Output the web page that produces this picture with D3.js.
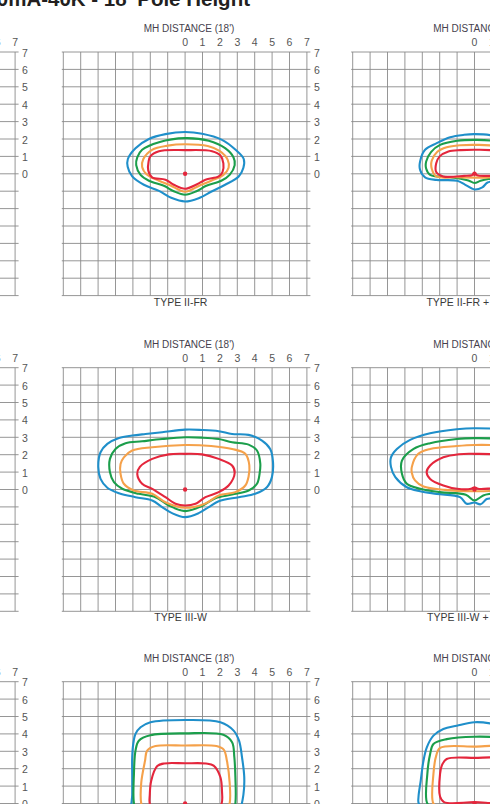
<!DOCTYPE html>
<html>
<head>
<meta charset="utf-8">
<script src="https://cdn.jsdelivr.net/npm/d3@7"></script>
<style>
  html, body { margin: 0; padding: 0; background: #fff; overflow: hidden; }
  svg { display: block; }
</style>
</head>
<body>
<svg id="chart" width="490" height="804"></svg>
<script>
// ---- text ----
const pageTitle = "700mA-40K - 18' Pole Height";
const axisTitle = "MH DISTANCE (18')";
const xTickLabels = [0, 1, 2, 3, 4, 5, 6, 7];
const yTickLabels = [7, 6, 5, 4, 3, 2, 1, 0];
const gridSteps = d3.range(-7, 8);            // grid lines every 1 MH, -7..7

// isofootcandle levels, outer to inner
const levelColors = ["#1f8fca", "#1b9e4b", "#f5a14a", "#e4263c"];

// ---- isofootcandle rings, [MH across, MH forward], outer to inner ----
const ringsIIFR = [
  [[0,2.4],[0.98,2.3],[2.12,1.95],[2.9,1.38],[3.37,0.85],[3.35,0.35],[3.08,-0.15],[2.3,-0.63],[1.55,-1.0],[0.78,-1.4],[0,-1.59],[-0.8,-1.38],[-1.5,-0.98],[-2.37,-0.63],[-3.04,-0.15],[-3.3,0.4],[-3.29,0.85],[-2.85,1.47],[-2.08,2.0],[-1.13,2.28]],
  [[0,2.05],[1.36,1.9],[2.3,1.47],[2.78,0.95],[2.85,0.5],[2.56,-0.06],[2.08,-0.4],[1.22,-0.69],[0.65,-1.0],[0,-1.2],[-0.65,-1.0],[-1.22,-0.69],[-2.08,-0.4],[-2.56,-0.06],[-2.81,0.5],[-2.75,0.95],[-2.47,1.38],[-1.5,1.82]],
  [[0,1.7],[1.3,1.6],[2.0,1.3],[2.45,0.8],[2.5,0.35],[2.2,-0.06],[1.5,-0.4],[0.84,-0.67],[0,-1.03],[-0.84,-0.67],[-1.5,-0.4],[-2.18,-0.06],[-2.47,0.4],[-2.4,0.85],[-1.9,1.38],[-1.0,1.62]],
  [[0,1.36],[1.55,1.3],[2.03,1.05],[2.2,0.6],[2.15,0.1],[1.93,-0.15],[1.17,-0.34],[0.69,-0.6],[0,-0.86],[-0.65,-0.63],[-1.13,-0.34],[-1.9,-0.2],[-2.12,0.2],[-2.1,0.7],[-2.0,1.0],[-1.5,1.3]]
];
const ringsIIFRHss = [
  [[0,2.28],[1.0,2.2],[2.0,1.8],[2.8,1.2],[3.1,0.5],[2.8,-0.1],[2.0,-0.3],[1.3,-0.4],[0.75,-0.5],[0.45,-0.78],[0,-0.9],[-0.55,-0.62],[-1.0,-0.4],[-2.2,-0.35],[-2.84,-0.2],[-3.13,0.23],[-3.13,0.7],[-2.84,1.38],[-2.17,1.76],[-1.4,2.1],[-0.6,2.24]],
  [[0,1.95],[1.0,1.9],[2.0,1.6],[2.6,1.0],[2.7,0.4],[2.4,-0.1],[1.5,-0.25],[0.8,-0.3],[0.35,-0.4],[0,-0.53],[-0.35,-0.38],[-0.8,-0.28],[-1.4,-0.2],[-2.55,-0.06],[-2.78,0.3],[-2.78,0.7],[-2.5,1.25],[-1.98,1.66],[-1.0,1.9]],
  [[0,1.66],[1.0,1.62],[1.9,1.35],[2.35,0.9],[2.4,0.35],[2.1,-0.1],[1.0,-0.2],[0,-0.22],[-1.0,-0.2],[-2.2,-0.15],[-2.46,0.3],[-2.46,0.75],[-2.15,1.25],[-1.6,1.52],[-0.8,1.64]],
  [[0,1.38],[1.0,1.35],[1.8,1.15],[2.1,0.7],[2.05,0.2],[1.6,-0.05],[0.6,-0.12],[0.15,-0.08],[0,0.06],[-0.15,-0.08],[-0.6,-0.12],[-1.8,-0.15],[-2.2,0.1],[-2.2,0.6],[-2.0,1.0],[-1.5,1.28],[-0.8,1.36]]
];
const ringsIIIW = [
  [[0,3.44],[0.97,3.42],[1.93,3.35],[2.7,3.19],[3.65,3.14],[4.42,2.81],[4.89,2.33],[5.05,1.6],[4.99,0.71],[4.7,0.13],[4.03,-0.25],[3.08,-0.44],[1.93,-0.67],[1.36,-1.01],[0.78,-1.36],[0,-1.59],[-0.75,-1.36],[-1.32,-1.01],[-1.89,-0.63],[-2.85,-0.44],[-3.8,-0.21],[-4.47,0.1],[-4.86,0.61],[-4.99,1.3],[-4.86,2.14],[-4.47,2.62],[-3.8,2.96],[-3.04,3.1],[-2.28,3.19],[-1.32,3.29]],
  [[0,3.0],[0.97,2.98],[1.93,2.9],[2.7,2.72],[3.65,2.58],[4.13,2.24],[4.32,1.5],[4.28,0.9],[4.13,0.33],[3.65,-0.06],[2.7,-0.29],[1.74,-0.5],[0.97,-0.95],[0,-1.24],[-0.94,-0.92],[-1.7,-0.44],[-2.66,-0.25],[-3.61,0.04],[-4.09,0.42],[-4.32,1.0],[-4.32,1.76],[-4.0,2.33],[-3.42,2.66],[-2.47,2.77],[-1.32,2.9]],
  [[0,2.56],[1.5,2.5],[2.7,2.33],[3.46,2.05],[3.69,1.4],[3.65,0.75],[3.46,0.23],[2.89,-0.15],[1.93,-0.34],[1.17,-0.8],[0,-1.05],[-1.13,-0.73],[-1.89,-0.25],[-2.94,-0.06],[-3.52,0.33],[-3.71,0.9],[-3.71,1.47],[-3.52,1.85],[-3.04,2.24],[-1.89,2.43]],
  [[0,2.05],[0.97,2.02],[1.93,1.76],[2.7,1.38],[2.85,0.95],[2.5,0.23],[1.93,-0.15],[1.17,-0.44],[0.6,-0.82],[0,-0.92],[-0.55,-0.82],[-1.13,-0.44],[-1.89,0.04],[-2.47,0.33],[-2.75,0.9],[-2.6,1.3],[-1.89,1.76],[-0.94,2.02]]
];
const ringsIIIWHss = [
  [[0,3.52],[1.5,3.45],[3.0,3.1],[4.2,2.5],[4.7,1.5],[4.5,0.5],[3.5,-0.1],[2.0,-0.3],[1.0,-0.5],[0.7,-0.55],[0.35,-0.85],[0,-0.75],[-0.45,-0.82],[-0.83,-0.44],[-2.17,-0.25],[-3.12,-0.1],[-3.89,0.13],[-4.55,0.71],[-4.8,1.3],[-4.8,1.85],[-4.46,2.33],[-3.7,2.85],[-2.55,3.23],[-1.02,3.46]],
  [[0,2.95],[1.5,2.9],[3.0,2.6],[3.9,2.0],[4.1,1.2],[3.9,0.4],[3.2,0.0],[2.0,-0.15],[0.9,-0.25],[0.5,-0.34],[0,-0.63],[-0.5,-0.3],[-1.98,-0.15],[-3.12,0.04],[-3.89,0.33],[-4.17,0.9],[-4.17,1.66],[-3.5,2.33],[-2.55,2.66],[-1.02,2.9]],
  [[0,2.56],[1.5,2.52],[2.9,2.25],[3.5,1.7],[3.6,1.0],[3.3,0.3],[2.2,0.0],[1.0,-0.08],[0,-0.1],[-1.7,-0.02],[-2.93,0.17],[-3.42,0.52],[-3.6,0.95],[-3.6,1.3],[-3.23,2.05],[-2.55,2.33],[-1.02,2.5]],
  [[0,2.05],[1.2,2.0],[2.2,1.7],[2.7,1.2],[2.6,0.6],[1.8,0.2],[0.8,0.05],[0.2,0.04],[0,0.13],[-0.2,0.04],[-1.0,0.04],[-1.79,0.23],[-2.55,0.61],[-2.75,1.0],[-2.55,1.38],[-1.79,1.85],[-0.9,2.03]]
];
const ringsIV = [
  [[0,4.8],[2.03,4.67],[2.79,4.19],[3.1,3.61],[3.27,2.66],[3.4,1.5],[3.35,0.5],[3.1,-0.5],[2.4,-1.3],[0,-1.6],[-2.4,-1.3],[-3.06,-0.5],[-3.04,0.5],[-3.04,1.6],[-3.04,2.66],[-2.98,3.42],[-2.85,4.0],[-2.56,4.38],[-1.99,4.67]],
  [[0,4.03],[2.2,3.95],[2.7,3.52],[2.83,2.66],[2.89,1.5],[2.89,0.0],[2.7,-0.8],[1.5,-1.1],[0,-1.15],[-1.5,-1.1],[-2.7,-0.8],[-2.94,0.0],[-2.94,1.7],[-2.85,3.04],[-2.66,3.61],[-2.0,3.92]],
  [[0,3.33],[1.8,3.3],[2.22,3.1],[2.4,2.47],[2.56,1.2],[2.56,0.0],[2.3,-0.6],[0,-0.8],[-2.3,-0.6],[-2.52,0.0],[-2.52,1.2],[-2.3,2.47],[-2.18,3.04],[-1.7,3.3]],
  [[0,2.31],[1.2,2.3],[1.64,2.18],[2.03,1.51],[2.12,0.7],[2.1,0.0],[1.8,-0.4],[0,-0.5],[-1.8,-0.4],[-2.03,0.0],[-2.03,0.5],[-1.95,1.3],[-1.6,2.15],[-1.2,2.3]]
];
const ringsIVHss = [
  [[0,4.67],[0.9,4.6],[2.0,4.3],[2.8,3.6],[3.1,2.5],[3.2,1.0],[3.1,0.0],[2.5,-0.6],[0,-0.8],[-2.5,-0.6],[-3.2,0.0],[-3.22,0.36],[-3.09,1.32],[-2.93,2.47],[-2.74,3.23],[-2.36,3.9],[-1.79,4.28],[-1.02,4.47]],
  [[0,3.84],[1.6,3.75],[2.4,3.4],[2.7,2.7],[2.75,1.5],[2.7,0.0],[2.2,-0.35],[0,-0.4],[-2.2,-0.35],[-2.71,0.0],[-2.71,1.7],[-2.55,2.85],[-2.36,3.42],[-1.6,3.7]],
  [[0,3.27],[1.9,3.22],[2.3,2.7],[2.4,1.5],[2.35,0.0],[2.0,-0.2],[0,-0.22],[-2.0,-0.2],[-2.36,0.0],[-2.36,1.7],[-2.2,2.75],[-1.98,3.2]],
  [[0,2.62],[1.6,2.56],[1.95,2.1],[2.0,1.0],[1.95,0.4],[1.75,0.08],[0,0.08],[-1.75,0.08],[-1.98,0.4],[-1.98,1.7],[-1.88,2.18],[-1.6,2.56]]
];

// panel grid: rows x columns; the left column only shows its edge
const panelRings = [
  [null, ringsIIFR, ringsIIFRHss],
  [null, ringsIIIW, ringsIIIWHss],
  [null, ringsIV, ringsIVHss]
];
const panelLabels = [
  [null, "TYPE II-FR", "TYPE II-FR + HSS"],
  [null, "TYPE III-W", "TYPE III-W + HSS"],
  [null, null, null]
];

// ---- layout ----
const W = 490;
const cell = 17.4;
const gridSize = cell * 14;
const colLeft = [-228.5, 63.3, 352.7];
const rowTop = [52, 367.7, 681.7];
const fontFamily = "'Liberation Sans Narrow', 'Liberation Sans', Arial, sans-serif";
const onPage = px => px > -6 && px < W + 4;   // skip labels that fall wholly off the sheet

const svg = d3.select("#chart");

svg.append("text")
  .attr("x", 250).attr("y", 6)
  .attr("text-anchor", "end")
  .attr("font-family", "'Liberation Sans', Arial, sans-serif")
  .attr("font-weight", "bold")
  .attr("font-size", 20.5)
  .attr("fill", "#231f20")
  .text(pageTitle);

rowTop.forEach((top, r) => {
  colLeft.forEach((left, c) => {
    const x = d3.scaleLinear().domain([-7, 7]).range([left, left + gridSize]);
    const y = d3.scaleLinear().domain([7, -7]).range([top, top + gridSize]);
    const g = svg.append("g");

    // grid
    g.append("g").selectAll("line").data(gridSteps).join("line")
      .attr("x1", d => x(d)).attr("x2", d => x(d))
      .attr("y1", y(7)).attr("y2", y(-7))
      .attr("stroke", "#8a8a8a").attr("stroke-width", 0.9);
    g.append("g").selectAll("line").data(gridSteps).join("line")
      .attr("x1", x(-7) - 1.5).attr("x2", x(7) + 3.5)
      .attr("y1", d => y(d)).attr("y2", d => y(d))
      .attr("stroke", "#8a8a8a").attr("stroke-width", 0.9);

    // top distance ticks
    g.append("g").selectAll("text").data(xTickLabels.filter(d => onPage(x(d)))).join("text")
      .attr("x", d => x(d)).attr("y", y(7) - 6)
      .attr("text-anchor", "middle")
      .attr("font-family", fontFamily).attr("font-size", 10.5)
      .attr("fill", "#555")
      .text(d => d);

    // right distance ticks
    if (onPage(x(7) + 7)) {
      g.append("g").selectAll("text").data(yTickLabels).join("text")
        .attr("x", x(7) + 7).attr("y", d => y(d) + 4.5)
        .attr("text-anchor", "start")
        .attr("font-family", fontFamily).attr("font-size", 10.5)
        .attr("fill", "#555")
        .text(d => d);
    }

    if (c === 0) return;

    g.append("text")
      .attr("x", x(0) + 4).attr("y", y(7) - 20)
      .attr("text-anchor", "middle")
      .attr("font-family", fontFamily).attr("font-size", 10)
      .attr("fill", "#463f4d")
      .text(axisTitle);

    const label = panelLabels[r][c];
    if (label) {
      g.append("text")
        .attr("x", x(0) - 4.5).attr("y", y(-7) + 10)
        .attr("text-anchor", "middle")
        .attr("font-family", fontFamily).attr("font-size", 10.5)
        .attr("fill", "#3a3a3a")
        .text(label);
    }

    const rings = panelRings[r][c];
    const ring = d3.line()
      .x(d => x(d[0])).y(d => y(d[1]))
      .curve(d3.curveCatmullRomClosed.alpha(0.5));
    g.append("g").selectAll("path").data(rings).join("path")
      .attr("d", ring)
      .attr("fill", "none")
      .attr("stroke", (d, i) => levelColors[i])
      .attr("stroke-width", 2.1)
      .attr("stroke-linejoin", "round");

    // luminaire position
    g.append("circle")
      .attr("cx", x(0)).attr("cy", y(0)).attr("r", 2.2)
      .attr("fill", levelColors[3]);
  });
});
</script>
</body>
</html>
